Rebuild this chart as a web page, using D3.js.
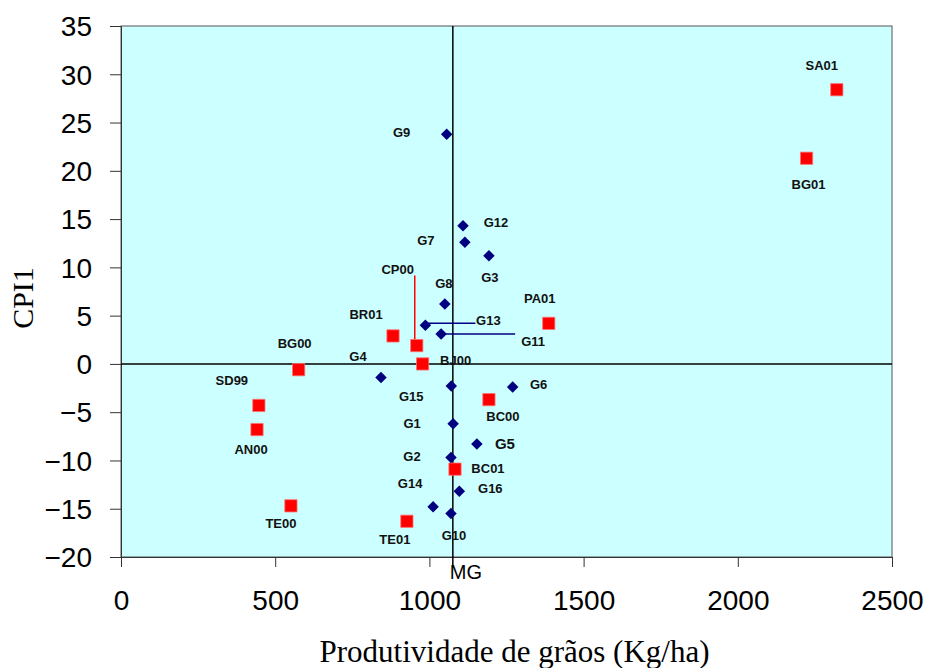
<!DOCTYPE html>
<html>
<head>
<meta charset="utf-8">
<script src="https://cdn.jsdelivr.net/npm/d3@7"></script>
<style>
  html, body { margin: 0; padding: 0; background: #ffffff; }
  svg { display: block; }
</style>
</head>
<body>
<svg id="chart" width="932" height="668"></svg>
<script>
// ---- data ----
const genotypeNames = ["G1","G2","G3","G4","G5","G6","G7","G8","G9","G10","G11","G12","G13","G14","G15","G16"];
const genotypeX = [1077,1070,1193,843,1154,1270,1115,1050,1056,1070,1038,1109,987,1012,1071,1097];
const genotypeY = [-6.2,-9.7,11.2,-1.4,-8.3,-2.4,12.6,6.2,23.8,-15.5,3.1,14.3,4.0,-14.8,-2.3,-13.2];

const envNames = ["SA01","BG01","PA01","BR01","CP00","BJ00","BG00","SD99","AN00","BC00","BC01","TE00","TE01"];
const envX = [2321,2223,1387,882,959,978,576,447,441,1193,1083,551,927];
const envY = [28.4,21.3,4.2,2.9,1.9,0.0,-0.6,-4.3,-6.8,-3.7,-10.9,-14.7,-16.3];

const meanProd = 1076;           // MG
const xTicks = [0,500,1000,1500,2000,2500];
const yTicks = [-20,-15,-10,-5,0,5,10,15,20,25,30,35];
const xTitle = "Produtividade de grãos (Kg/ha)";
const yTitle = "CPI1";
const meanLabel = "MG";

// ---- layout (label offsets in px, kept apart from data) ----
const labelOffset = {
  G1:[-41,0], G2:[-39,-1], G3:[1,22], G4:[-23,-21], G5:[28,0], G6:[26,-3],
  G7:[-39,-2], G8:[-1,-21], G9:[-45,-2], G10:[3,22], G11:[92,7], G12:[33,-4],
  G13:[63,-5], G14:[-23,-23], G15:[-40,10], G16:[31,-3],
  SA01:[-15,-24], BG01:[2,26], PA01:[-9,-25], BR01:[-27,-22], CP00:[-19,-76],
  BJ00:[33,-4], BG00:[-4,-26], SD99:[-27,-25], AN00:[-6,20], BC00:[14,17],
  BC01:[33,-1], TE00:[-10,17], TE01:[-12,18]
};
const bigLabels = {G5:15};

const svg = d3.select("#chart");
const L = 121, R = 892, T = 26, B = 557;

const x = d3.scaleLinear().domain([0,2500]).range([L,R]);
const y = d3.scaleLinear().domain([-20,35]).range([B,T]);

// plot background
svg.append("rect").attr("x",L).attr("y",T).attr("width",R-L).attr("height",B-T)
  .attr("fill","#ccffff").attr("stroke","#555").attr("stroke-width",1);

// axes
const xAxis = d3.axisBottom(x).tickValues(xTicks).tickFormat(d3.format("d"))
  .tickSize(10).tickSizeOuter(0).tickPadding(18);
const gx = svg.append("g").attr("transform",`translate(0,${B})`).call(xAxis);
gx.select(".domain").attr("stroke","#333");
gx.selectAll(".tick line").attr("stroke","#333");
gx.selectAll(".tick text").attr("font-family","'Liberation Sans', Arial, sans-serif")
  .attr("font-size",28).attr("fill","#000").attr("dy","0.9em");

const yAxis = d3.axisLeft(y).tickValues(yTicks).tickFormat(d3.format("d"))
  .tickSize(11).tickSizeOuter(0).tickPadding(18);
const gy = svg.append("g").attr("transform",`translate(${L},0)`).call(yAxis);
gy.select(".domain").attr("stroke","#333");
gy.selectAll(".tick line").attr("stroke","#333");
gy.selectAll(".tick text").attr("font-family","'Liberation Sans', Arial, sans-serif")
  .attr("font-size",28).attr("fill","#000").attr("dy","0.35em");

// reference lines
svg.append("line").attr("x1",L).attr("x2",R).attr("y1",y(0)).attr("y2",y(0))
  .attr("stroke","#000").attr("stroke-width",1.5);
svg.append("line").attr("x1",x(meanProd)).attr("x2",x(meanProd)).attr("y1",T).attr("y2",B+10)
  .attr("stroke","#000").attr("stroke-width",1.5);
svg.append("text").attr("x",x(meanProd)+13).attr("y",B+22).attr("text-anchor","middle")
  .attr("font-family","'Liberation Sans', Arial, sans-serif").attr("font-size",20)
  .text(meanLabel);

// leader lines
const gi = n => genotypeNames.indexOf(n);
const ei = n => envNames.indexOf(n);
svg.append("line")
  .attr("x1",x(envX[ei("CP00")])-2).attr("x2",x(envX[ei("CP00")])-2)
  .attr("y1",y(envY[ei("CP00")])-70).attr("y2",y(envY[ei("CP00")])-6)
  .attr("stroke","#ff0000").attr("stroke-width",1.5);
svg.append("line")
  .attr("x1",x(genotypeX[gi("G13")])).attr("x2",x(genotypeX[gi("G13")])+50)
  .attr("y1",y(genotypeY[gi("G13")])-2).attr("y2",y(genotypeY[gi("G13")])-2)
  .attr("stroke","#000080").attr("stroke-width",1.5);
svg.append("line")
  .attr("x1",x(genotypeX[gi("G11")])).attr("x2",x(genotypeX[gi("G11")])+74)
  .attr("y1",y(genotypeY[gi("G11")])).attr("y2",y(genotypeY[gi("G11")]))
  .attr("stroke","#000080").attr("stroke-width",1.5);

// environment squares
const sq = d3.symbol().type(d3.symbolSquare).size(150);
svg.append("g").selectAll("path").data(envNames).join("path")
  .attr("d",sq)
  .attr("transform",(d,i)=>`translate(${x(envX[i])},${y(envY[i])})`)
  .attr("fill","#ff0000").attr("stroke","#ff7070").attr("stroke-width",0.8);

// genotype diamonds
const dm = d3.symbol().type(d3.symbolSquare).size(66);
svg.append("g").selectAll("path").data(genotypeNames).join("path")
  .attr("d",dm)
  .attr("transform",(d,i)=>`translate(${x(genotypeX[i])},${y(genotypeY[i])}) rotate(45)`)
  .attr("fill","#000080");

// labels
function addLabels(names, xs, ys) {
  svg.append("g").selectAll("text").data(names).join("text")
    .attr("x",(d,i)=>x(xs[i])+labelOffset[d][0])
    .attr("y",(d,i)=>y(ys[i])+labelOffset[d][1])
    .attr("dy","0.36em")
    .attr("text-anchor","middle")
    .attr("font-family","'Liberation Sans', Arial, sans-serif")
    .attr("font-weight","bold")
    .attr("font-size",d=>bigLabels[d]||13)
    .attr("fill","#111")
    .text(d=>d);
}
addLabels(genotypeNames, genotypeX, genotypeY);
addLabels(envNames, envX, envY);

// axis titles
svg.append("text").attr("x",(L+R)/2+8).attr("y",662).attr("text-anchor","middle")
  .attr("font-family","'Liberation Serif', 'Times New Roman', serif").attr("font-size",31)
  .text(xTitle);
svg.append("text").attr("transform","translate(33,298) rotate(-90)").attr("text-anchor","middle")
  .attr("font-family","'Liberation Serif', 'Times New Roman', serif").attr("font-size",30)
  .text(yTitle);
</script>
</body>
</html>
